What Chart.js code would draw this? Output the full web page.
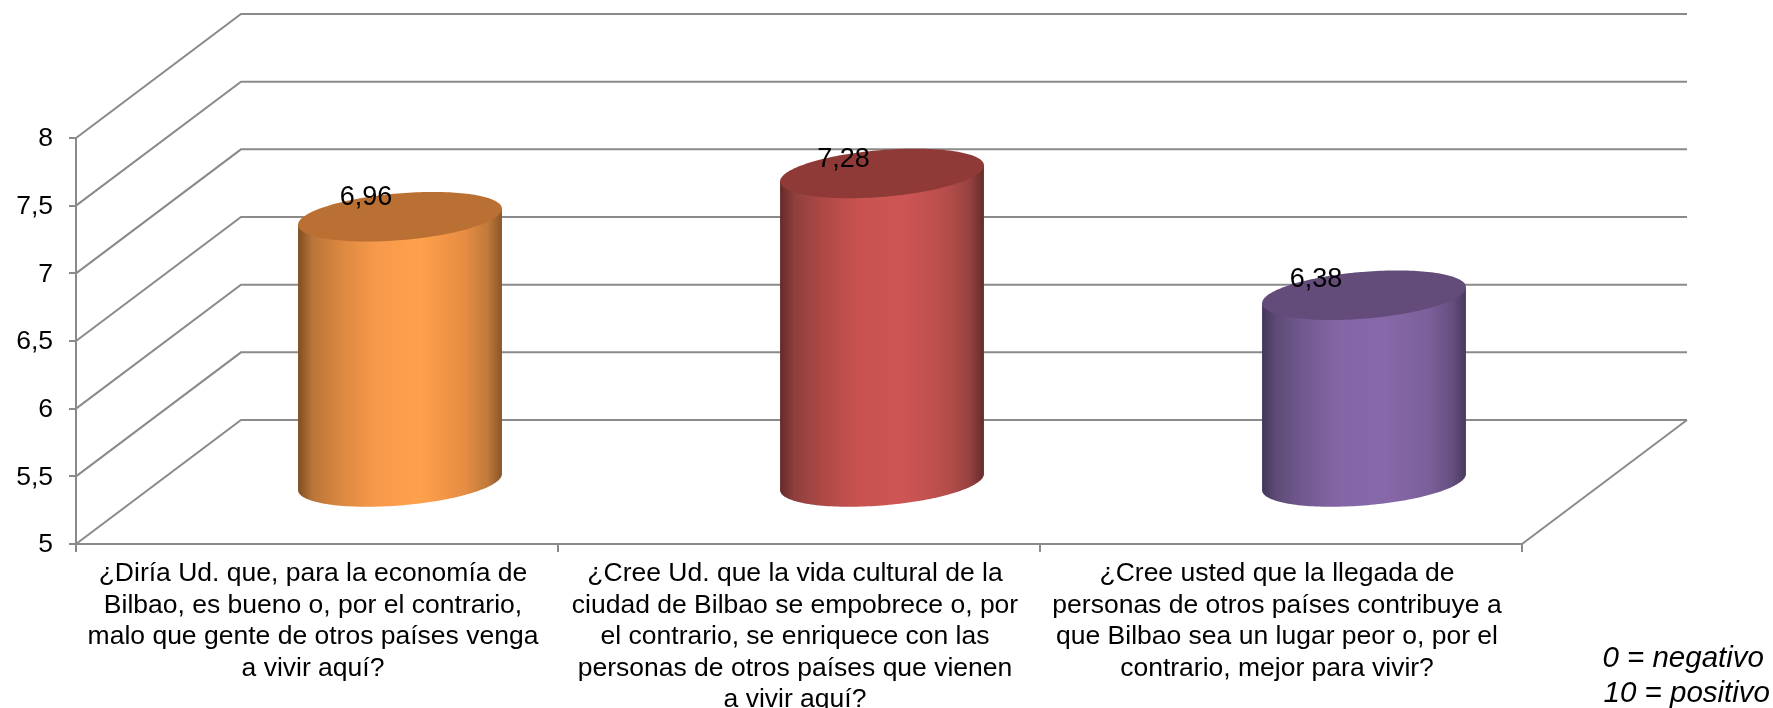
<!DOCTYPE html>
<html><head><meta charset="utf-8">
<style>html,body{margin:0;padding:0;background:#fff}canvas{display:block}</style>
<script src="https://cdn.jsdelivr.net/npm/chart.js@4"></script>
</head><body>
<canvas id="c" width="1773" height="708"></canvas>
<script>
const categories = [
  ["¿Diría Ud. que, para la economía de","Bilbao, es bueno o, por el contrario,","malo que gente de otros países venga","a vivir aquí?"],
  ["¿Cree Ud. que la vida cultural de la","ciudad de Bilbao se empobrece o, por","el contrario, se enriquece con las","personas de otros países que vienen","a vivir aquí?"],
  ["¿Cree usted que la llegada de","personas de otros países contribuye a","que Bilbao sea un lugar peor o, por el","contrario, mejor para vivir?"]
];
const values = [6.96, 7.28, 6.38];
const valueLabels = ["6,96", "7,28", "6,38"];
const noteLines = ["0 = negativo", "10 = positivo"];

const FONT = '"Liberation Sans", Arial, sans-serif';
const LINE = '#8A8A8A';
const depth = {x:165, y:124};
const palettes = [
  {cap:'#BA7033', stops:['#7E4E22','#B87539','#D9873F','#F7994A','#FFA04B','#E58C43','#C07A3B','#8A5427']},
  {cap:'#903A38', stops:['#642A29','#8F3F3D','#AC4846','#C7524F','#CD5654','#B64D4A','#964240','#652B2A']},
  {cap:'#644C7A', stops:['#43365A','#5E4B76','#72598F','#8466A6','#8768A9','#7A5F9A','#65507F','#483A5F']}
];
const stopPos = [0,0.07,0.2,0.38,0.6,0.82,0.93,1];
const labelOffsets = [{x:49,y:-81},{x:44.5,y:-75.5},{x:35,y:-77.5}];

const scene = {
  id:'scene',
  beforeDatasetsDraw(chart){
    const {ctx, scales:{x,y}, chartArea:a} = chart;
    ctx.save();
    ctx.strokeStyle = LINE; ctx.lineWidth = 2; ctx.lineJoin='miter';
    y.ticks.forEach(t=>{
      const py = y.getPixelForValue(t.value);
      ctx.beginPath();
      ctx.moveTo(a.left,py);
      ctx.lineTo(a.left+depth.x,py-depth.y);
      ctx.lineTo(a.right+depth.x,py-depth.y);
      ctx.stroke();
    });
    const by = y.getPixelForValue(y.min);
    ctx.beginPath();
    ctx.moveTo(a.right,by);
    ctx.lineTo(a.right+depth.x,by-depth.y);
    ctx.stroke();
    ctx.restore();
  },
  beforeDatasetDraw(chart){
    const {ctx, scales:{y}} = chart;
    const meta = chart.getDatasetMeta(0);
    const by = y.getPixelForValue(y.min);
    const b = depth.x*0.2, c = depth.y*0.2;
    meta.data.forEach((el,i)=>{
      const cx = el.x + depth.x/2 + 0.5;
      const half = el.width/2;
      const A = Math.sqrt(half*half - b*b);
      const top = el.y - depth.y/2, bot = by - depth.y/2;
      const t0 = Math.atan2(b,A);
      const pt = (t,cy)=>[cx + A*Math.cos(t) + b*Math.sin(t), cy - c*Math.sin(t)];
      const pal = palettes[i];
      const g = ctx.createLinearGradient(cx-half,0,cx+half,0);
      pal.stops.forEach((s,k)=>g.addColorStop(stopPos[k],s));
      ctx.save();
      ctx.beginPath();
      let p = pt(t0+Math.PI,top); ctx.moveTo(p[0],p[1]);
      for(let k=0;k<=90;k++){ p = pt(t0+Math.PI+Math.PI*k/90,bot); ctx.lineTo(p[0],p[1]); }
      p = pt(t0,top); ctx.lineTo(p[0],p[1]);
      ctx.closePath();
      ctx.fillStyle = g; ctx.fill();
      ctx.beginPath();
      for(let k=0;k<180;k++){ p = pt(Math.PI*2*k/180,top); k?ctx.lineTo(p[0],p[1]):ctx.moveTo(p[0],p[1]); }
      ctx.closePath();
      ctx.fillStyle = pal.cap; ctx.fill();
      ctx.restore();
    });
    return false;
  },
  afterDatasetsDraw(chart){
    const {ctx} = chart;
    const meta = chart.getDatasetMeta(0);
    ctx.save();
    ctx.fillStyle='#000'; ctx.textAlign='center'; ctx.textBaseline='middle';
    ctx.font = '27px '+FONT;
    meta.data.forEach((el,i)=>{
      ctx.fillText(valueLabels[i], el.x+labelOffsets[i].x, el.y+labelOffsets[i].y);
    });
    ctx.font = 'italic 29.5px '+FONT;
    ctx.textAlign='right';
    ctx.fillText(noteLines[0], 1764, 659);
    ctx.fillText(noteLines[1], 1770, 694);
    ctx.restore();
  }
};

new Chart(document.getElementById('c'),{
  type:'bar',
  data:{labels:categories,datasets:[{data:values,backgroundColor:'#F79646',barPercentage:0.423,categoryPercentage:1}]},
  plugins:[scene],
  options:{
    responsive:false,animation:false,
    layout:{padding:{left:0,top:138,right:251,bottom:0}},
    plugins:{legend:{display:false},title:{display:false},tooltip:{enabled:false}},
    scales:{
      x:{
        afterFit(s){s.height=164;},
        grid:{display:true,drawOnChartArea:false,drawTicks:true,tickLength:8,color:LINE,lineWidth:2},
        border:{display:true,color:LINE,width:2},
        ticks:{color:'#000',font:{family:FONT,size:26.5,lineHeight:1.19},padding:6,maxRotation:0,autoSkip:false,labelOffset:-4}
      },
      y:{
        min:5,max:8,
        afterFit(s){s.width=76;},
        grid:{display:true,drawOnChartArea:false,drawTicks:true,tickLength:7,color:LINE,lineWidth:2},
        border:{display:true,color:LINE,width:2},
        ticks:{stepSize:0.5,color:'#000',font:{family:FONT,size:26.5},padding:16,labelOffset:1,
          callback:v=>String(v).replace('.',',')}
      }
    }
  }
});
</script>
</body></html>
